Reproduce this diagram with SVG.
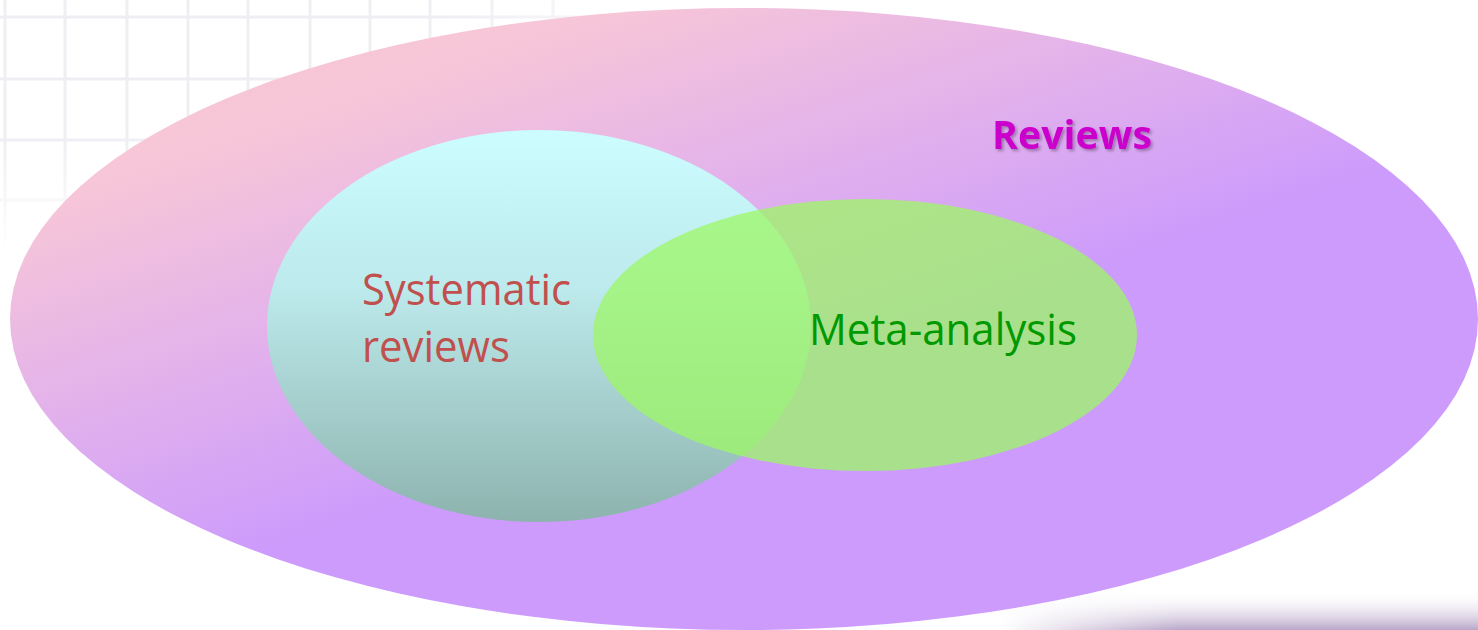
<svg xmlns="http://www.w3.org/2000/svg" width="1478" height="630" viewBox="0 0 1478 630">
<defs>
<linearGradient id="gBig" x1="0.12" y1="0" x2="0.72" y2="0.75">
<stop offset="0" stop-color="#fbcad3"/>
<stop offset="0.2" stop-color="#f6c5d8"/>
<stop offset="0.45" stop-color="#e4b3ea"/>
<stop offset="0.75" stop-color="#cc9bfc"/>
<stop offset="1" stop-color="#cc9bfc"/>
</linearGradient>
<linearGradient id="gCyan" x1="0" y1="0" x2="0" y2="1">
<stop offset="0" stop-color="#ccfdff"/>
<stop offset="0.4" stop-color="#bdeaec"/>
<stop offset="1" stop-color="#8db3ae"/>
</linearGradient>
<linearGradient id="gShadow" x1="0" y1="0" x2="0" y2="1">
<stop offset="0" stop-color="#ffffff" stop-opacity="0"/>
<stop offset="1" stop-color="#b8a6c8"/>
</linearGradient>
<linearGradient id="gShadowX" x1="0" y1="0" x2="1" y2="0">
<stop offset="0" stop-color="#fff" stop-opacity="1"/>
<stop offset="0.6" stop-color="#fff" stop-opacity="0"/>
</linearGradient>
<radialGradient id="gGridMask" cx="0" cy="0" r="1" gradientUnits="objectBoundingBox" gradientTransform="scale(1,0.6)">
<stop offset="0" stop-color="#fff"/>
<stop offset="0.55" stop-color="#fff"/>
<stop offset="1" stop-color="#000"/>
</radialGradient>
<mask id="gridMask" maskUnits="userSpaceOnUse" x="0" y="0" width="800" height="420">
<rect x="0" y="0" width="800" height="420" fill="url(#gGridMask)"/>
</mask>
<filter id="tshadow" x="-10%" y="-20%" width="130%" height="150%">
<feDropShadow dx="2" dy="2" stdDeviation="1.5" flood-color="#000" flood-opacity="0.3"/>
</filter>
<style>
.lbl{font-family:"Open Sans","Liberation Sans",sans-serif;}
</style>
</defs>
<rect width="1478" height="630" fill="#ffffff"/>
<g id="background-grid" mask="url(#gridMask)">
<path stroke="#efeef3" stroke-width="3" fill="none" d="M5,0V300M65,0V300M127,0V300M188,0V300M248,0V300M310,0V300M370,0V300M430,0V300M492,0V300M553,0V300M0,17H800M0,79H800M0,140H800M0,200H800M0,261H800"/>
</g>
<g id="slide-shadow">
<rect x="1000" y="590" width="478" height="40" fill="url(#gShadow)"/>
<rect x="1000" y="590" width="300" height="40" fill="url(#gShadowX)"/>
</g>
<g id="node-reviews">
<ellipse cx="744" cy="319" rx="734" ry="311" fill="url(#gBig)"/>
<text class="lbl" x="992" y="149" font-size="39" font-weight="bold" fill="#cc00cc" textLength="160" lengthAdjust="spacingAndGlyphs" filter="url(#tshadow)">Reviews</text>
</g>
<g id="node-systematic">
<ellipse cx="539" cy="326" rx="272" ry="196" fill="url(#gCyan)"/>
<text class="lbl" font-size="44" fill="#c0504d"><tspan x="362" y="305" textLength="209" lengthAdjust="spacingAndGlyphs">Systematic</tspan><tspan x="362" y="362" textLength="148" lengthAdjust="spacingAndGlyphs">reviews</tspan></text>
</g>
<g id="node-meta">
<ellipse cx="865" cy="335" rx="272" ry="136" fill="#9ef766" fill-opacity="0.75"/>
<text class="lbl" x="809" y="345" font-size="44" fill="#009900" textLength="268" lengthAdjust="spacingAndGlyphs">Meta-analysis</text>
</g>
<g id="connectors"/>
</svg>
